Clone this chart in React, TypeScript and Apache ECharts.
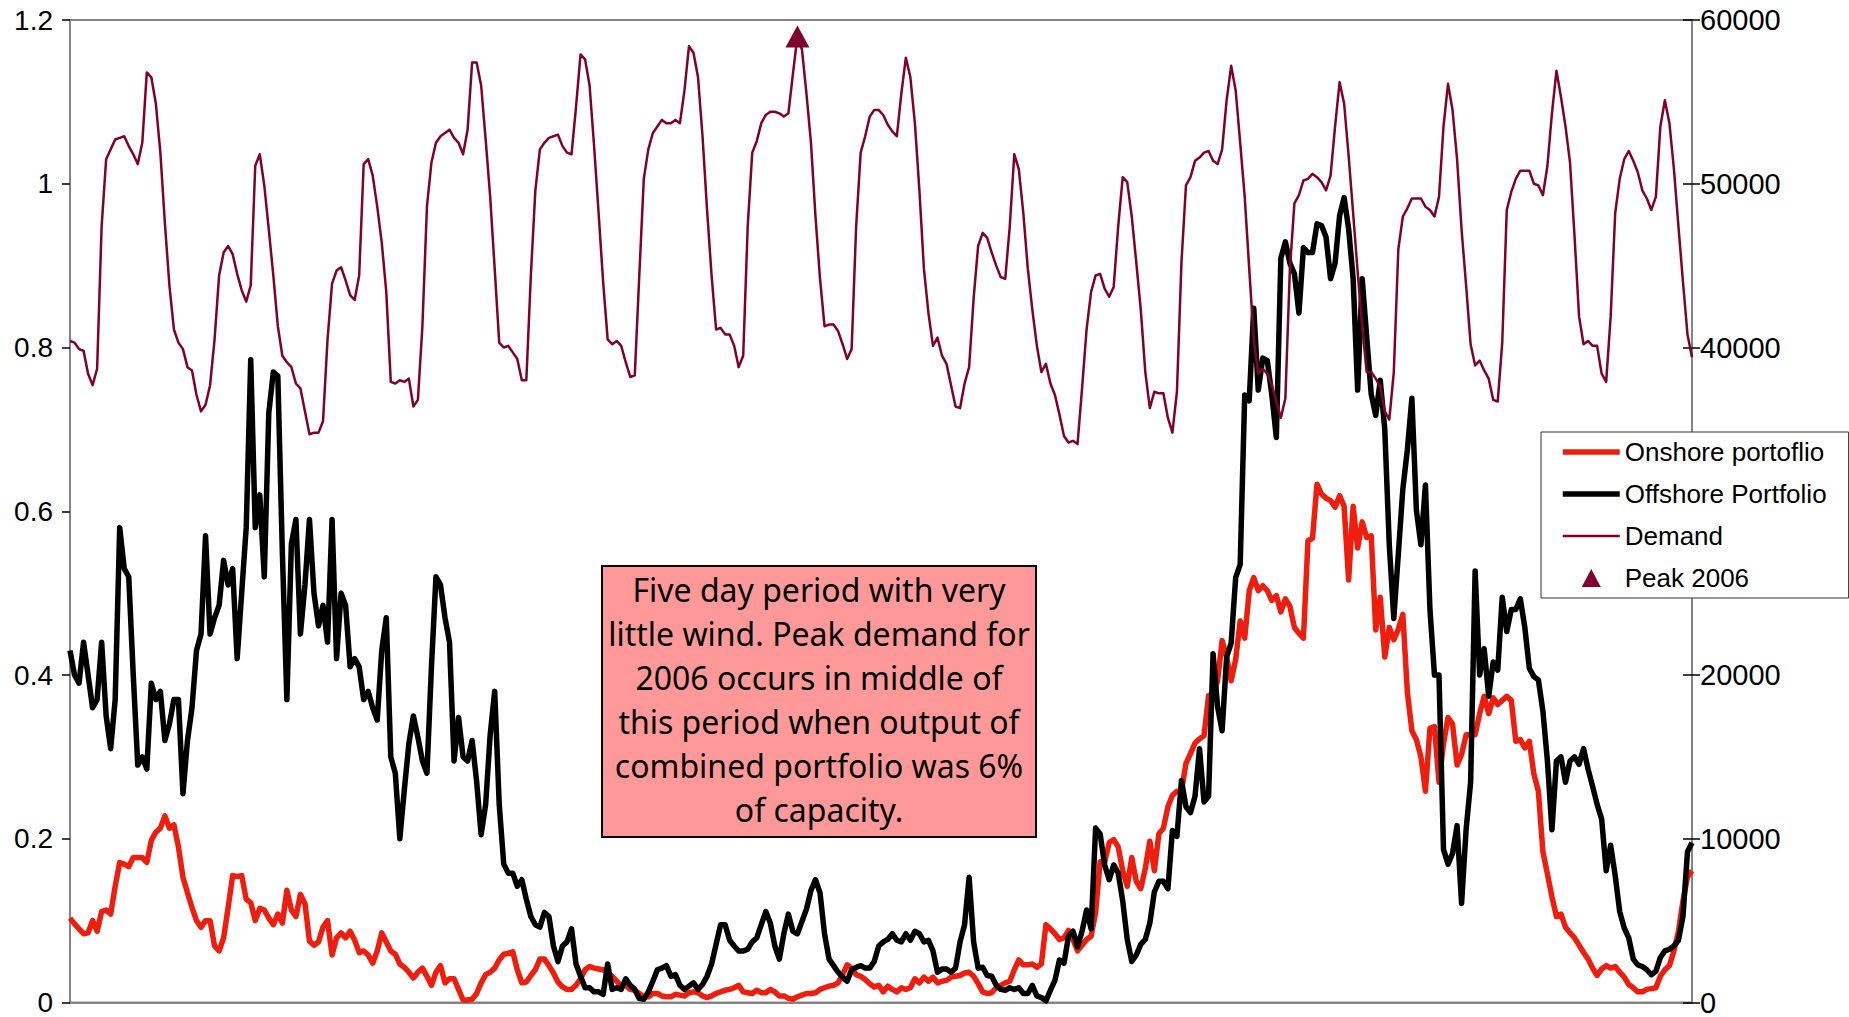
import React, { useEffect, useRef } from "react";
import * as echarts from "echarts";

// Hourly capacity factors of the two wind portfolios (fraction of capacity), 15 days.
const onshore = [
  0.103, 0.096, 0.09, 0.084, 0.085, 0.1, 0.087, 0.111, 0.113, 0.108, 0.142, 0.171, 0.169, 0.166, 0.177, 0.177, 0.177, 0.171, 0.198, 0.208, 0.213, 0.228, 0.213, 0.217,
  0.19, 0.153, 0.134, 0.116, 0.1, 0.092, 0.1, 0.1, 0.069, 0.063, 0.079, 0.116, 0.155, 0.154, 0.155, 0.126, 0.122, 0.1, 0.115, 0.113, 0.103, 0.095, 0.108, 0.097,
  0.137, 0.113, 0.105, 0.132, 0.121, 0.075, 0.07, 0.074, 0.092, 0.1, 0.058, 0.079, 0.085, 0.079, 0.087, 0.076, 0.061, 0.063, 0.058, 0.048, 0.063, 0.085, 0.074, 0.063,
  0.059, 0.047, 0.043, 0.037, 0.03, 0.037, 0.042, 0.032, 0.021, 0.037, 0.045, 0.024, 0.029, 0.029, 0.016, 0.003, 0.003, 0.004, 0.011, 0.024, 0.034, 0.037, 0.042, 0.052,
  0.059, 0.06, 0.062, 0.04, 0.024, 0.025, 0.033, 0.04, 0.053, 0.053, 0.045, 0.036, 0.025, 0.019, 0.016, 0.016, 0.021, 0.029, 0.04, 0.044, 0.042, 0.041, 0.04, 0.036,
  0.032, 0.026, 0.02, 0.021, 0.016, 0.015, 0.011, 0.007, 0.007, 0.011, 0.011, 0.008, 0.007, 0.007, 0.01, 0.009, 0.008, 0.012, 0.013, 0.012, 0.008, 0.006, 0.008, 0.011,
  0.013, 0.015, 0.016, 0.018, 0.021, 0.013, 0.012, 0.011, 0.015, 0.012, 0.012, 0.016, 0.013, 0.008, 0.008, 0.005, 0.004, 0.007, 0.009, 0.011, 0.011, 0.012, 0.016, 0.018,
  0.02, 0.021, 0.024, 0.034, 0.046, 0.042, 0.034, 0.032, 0.028, 0.023, 0.019, 0.021, 0.013, 0.02, 0.016, 0.013, 0.018, 0.016, 0.018, 0.029, 0.024, 0.031, 0.026, 0.031,
  0.024, 0.026, 0.027, 0.031, 0.032, 0.033, 0.036, 0.037, 0.032, 0.023, 0.013, 0.011, 0.012, 0.018, 0.021, 0.024, 0.026, 0.04, 0.052, 0.046, 0.046, 0.047, 0.043, 0.047,
  0.095, 0.09, 0.084, 0.077, 0.079, 0.088, 0.077, 0.063, 0.07, 0.077, 0.081, 0.11, 0.172, 0.171, 0.195, 0.199, 0.19, 0.161, 0.142, 0.177, 0.148, 0.139, 0.164, 0.197,
  0.161, 0.206, 0.213, 0.239, 0.253, 0.258, 0.258, 0.292, 0.304, 0.317, 0.322, 0.326, 0.375, 0.377, 0.393, 0.442, 0.422, 0.393, 0.419, 0.466, 0.445, 0.503, 0.519, 0.503,
  0.509, 0.503, 0.491, 0.497, 0.477, 0.493, 0.484, 0.458, 0.451, 0.445, 0.564, 0.567, 0.633, 0.621, 0.616, 0.613, 0.605, 0.619, 0.606, 0.516, 0.606, 0.555, 0.587, 0.568,
  0.57, 0.455, 0.495, 0.422, 0.458, 0.443, 0.456, 0.474, 0.379, 0.332, 0.321, 0.3, 0.258, 0.335, 0.337, 0.269, 0.316, 0.348, 0.34, 0.29, 0.303, 0.327, 0.327, 0.327,
  0.353, 0.374, 0.353, 0.372, 0.364, 0.369, 0.374, 0.369, 0.319, 0.321, 0.311, 0.319, 0.279, 0.258, 0.184, 0.157, 0.129, 0.105, 0.108, 0.092, 0.085, 0.079, 0.07, 0.061,
  0.053, 0.042, 0.033, 0.041, 0.045, 0.042, 0.044, 0.037, 0.031, 0.022, 0.018, 0.013, 0.013, 0.016, 0.017, 0.018, 0.032, 0.04, 0.045, 0.063, 0.087, 0.124, 0.153, 0.161,
];

const offshore = [
  0.43, 0.4, 0.39, 0.44, 0.4, 0.36, 0.37, 0.44, 0.35, 0.31, 0.37, 0.58, 0.53, 0.52, 0.4, 0.29, 0.3, 0.285, 0.39, 0.37, 0.38, 0.32, 0.34, 0.37,
  0.37, 0.255, 0.32, 0.36, 0.43, 0.45, 0.57, 0.45, 0.47, 0.485, 0.54, 0.51, 0.53, 0.42, 0.5, 0.58, 0.785, 0.58, 0.62, 0.52, 0.72, 0.77, 0.765, 0.55,
  0.37, 0.56, 0.59, 0.45, 0.51, 0.59, 0.5, 0.46, 0.485, 0.44, 0.59, 0.42, 0.5, 0.485, 0.41, 0.42, 0.41, 0.37, 0.38, 0.36, 0.345, 0.43, 0.47, 0.3,
  0.28, 0.2, 0.26, 0.316, 0.35, 0.324, 0.295, 0.28, 0.41, 0.52, 0.51, 0.47, 0.44, 0.295, 0.348, 0.3, 0.295, 0.32, 0.27, 0.205, 0.242, 0.327, 0.38, 0.242,
  0.169, 0.158, 0.158, 0.142, 0.15, 0.126, 0.105, 0.095, 0.092, 0.11, 0.105, 0.069, 0.05, 0.069, 0.074, 0.09, 0.047, 0.032, 0.018, 0.018, 0.013, 0.013, 0.01, 0.047,
  0.016, 0.018, 0.016, 0.029, 0.021, 0.016, 0.005, 0.004, 0.013, 0.026, 0.04, 0.042, 0.045, 0.032, 0.034, 0.021, 0.016, 0.02, 0.024, 0.016, 0.022, 0.032, 0.047, 0.071,
  0.095, 0.095, 0.076, 0.069, 0.063, 0.063, 0.065, 0.074, 0.079, 0.095, 0.111, 0.097, 0.069, 0.053, 0.084, 0.108, 0.087, 0.084, 0.099, 0.114, 0.137, 0.15, 0.134, 0.084,
  0.053, 0.045, 0.037, 0.031, 0.026, 0.04, 0.043, 0.045, 0.042, 0.042, 0.05, 0.069, 0.074, 0.077, 0.084, 0.076, 0.074, 0.084, 0.076, 0.087, 0.084, 0.074, 0.076, 0.063,
  0.037, 0.041, 0.041, 0.037, 0.042, 0.074, 0.095, 0.153, 0.074, 0.042, 0.043, 0.033, 0.032, 0.021, 0.016, 0.015, 0.018, 0.016, 0.018, 0.011, 0.011, 0.021, 0.008, 0.006,
  0.002, 0.015, 0.027, 0.052, 0.048, 0.081, 0.087, 0.068, 0.087, 0.113, 0.09, 0.213, 0.206, 0.168, 0.15, 0.168, 0.158, 0.124, 0.077, 0.05, 0.058, 0.071, 0.077, 0.097,
  0.135, 0.148, 0.148, 0.139, 0.21, 0.203, 0.271, 0.239, 0.232, 0.252, 0.31, 0.245, 0.252, 0.426, 0.361, 0.332, 0.422, 0.439, 0.519, 0.535, 0.742, 0.735, 0.848, 0.748,
  0.787, 0.784, 0.742, 0.69, 0.909, 0.929, 0.903, 0.89, 0.842, 0.922, 0.916, 0.916, 0.951, 0.949, 0.935, 0.884, 0.903, 0.961, 0.983, 0.945, 0.884, 0.748, 0.884, 0.813,
  0.743, 0.717, 0.76, 0.7, 0.559, 0.469, 0.548, 0.627, 0.675, 0.738, 0.601, 0.559, 0.632, 0.48, 0.4, 0.4, 0.187, 0.169, 0.182, 0.216, 0.121, 0.211, 0.269, 0.527,
  0.4, 0.432, 0.374, 0.416, 0.406, 0.495, 0.453, 0.48, 0.48, 0.493, 0.458, 0.408, 0.398, 0.394, 0.356, 0.295, 0.211, 0.295, 0.3, 0.269, 0.295, 0.3, 0.291, 0.31,
  0.285, 0.264, 0.242, 0.224, 0.161, 0.192, 0.155, 0.111, 0.091, 0.079, 0.053, 0.046, 0.044, 0.04, 0.034, 0.038, 0.055, 0.063, 0.065, 0.069, 0.076, 0.105, 0.184, 0.195,
];

// Hourly system demand, MW.
const demand = [
  40400, 40300, 39900, 39800, 38400, 37700, 38700, 47400, 51500, 52100, 52700, 52800, 52900, 52300, 51800, 51200, 52500, 56800, 56500, 54900, 51900, 47600, 43800, 41100,
  40300, 39900, 38800, 38600, 37100, 36100, 36500, 37700, 40500, 44400, 45800, 46200, 45700, 44500, 43500, 42800, 43800, 51100, 51800, 49900, 47200, 44400, 41300, 39500,
  39100, 38800, 37800, 37500, 36100, 34700, 34800, 34800, 35500, 40500, 43900, 44700, 44900, 44100, 43200, 42900, 44400, 51200, 51500, 50500, 48600, 46400, 43400, 37900,
  37800, 38000, 37900, 38100, 36400, 36800, 41300, 48600, 51300, 52500, 52900, 53100, 53300, 52800, 52500, 51800, 53300, 57400, 57400, 56000, 52700, 49200, 44800, 40300,
  40000, 40100, 39700, 39300, 38000, 38000, 44400, 49600, 52100, 52500, 52800, 52900, 53000, 52300, 51900, 51800, 54700, 57900, 57600, 56000, 52300, 48200, 44000, 40500,
  40200, 40400, 40100, 39100, 38200, 38300, 44400, 50300, 52100, 53100, 53500, 53900, 53700, 53700, 53900, 53700, 55700, 58400, 58000, 56500, 52900, 48400, 44400, 41100,
  41200, 40800, 40800, 40100, 38800, 39500, 47400, 51900, 52600, 53700, 54200, 54400, 54400, 54300, 54100, 54300, 56700, 59000, 58200, 55500, 52500, 48000, 44200, 41300,
  41400, 41400, 41000, 40200, 39300, 39900, 47400, 51900, 52900, 54100, 54500, 54500, 54200, 53600, 53200, 52900, 55500, 57700, 56500, 53700, 49600, 44800, 42100, 40100,
  40600, 39500, 39000, 37700, 36400, 36300, 37800, 38800, 43000, 46200, 47000, 46700, 45800, 45000, 44300, 44200, 47400, 51800, 50900, 48200, 44800, 42300, 40100, 38500,
  39000, 37800, 37100, 35900, 34600, 34200, 34300, 34100, 37500, 41100, 43400, 44400, 44500, 43600, 43100, 43700, 47400, 50400, 50100, 48000, 45200, 42300, 38500, 36300,
  37300, 37200, 37200, 35700, 34800, 37300, 45200, 49900, 50400, 51400, 51600, 51900, 52000, 51400, 51200, 52100, 55100, 57200, 55700, 52500, 49200, 44800, 40500, 38400,
  38700, 38400, 37700, 36700, 35700, 36900, 44800, 48800, 49300, 50200, 50300, 50600, 50400, 50100, 49600, 50500, 53500, 56200, 54900, 51700, 48200, 44600, 41300, 38500,
  38500, 38100, 37600, 36100, 35600, 38500, 46000, 48000, 48500, 49100, 49100, 49100, 48600, 48400, 48000, 49200, 53500, 56100, 54500, 51500, 47200, 43800, 40200, 38900,
  39200, 38600, 38100, 36800, 36700, 40300, 48400, 49500, 50300, 50800, 50800, 50800, 50000, 49900, 49300, 51100, 54300, 56900, 55300, 53500, 51300, 46800, 41900, 40200,
  40400, 40100, 40100, 38400, 37900, 41900, 48200, 50300, 51500, 52000, 51400, 50700, 49600, 49100, 48400, 49200, 53500, 55100, 53700, 50900, 47400, 44000, 40800, 39400,
];

// Hour index (from the start of the period) at which the 2006 peak demand occurs.
const peakHour = 161;

const seriesNames = ["Onshore portoflio", "Offshore Portfolio", "Demand", "Peak 2006"];

const noteLines = [
  "Five day period with very",
  "little wind. Peak demand for",
  "2006 occurs in middle of",
  "this period when output of",
  "combined portfolio was 6%",
  "of capacity.",
];

const hours = demand.map((_, i) => String(i));

const AXIS_GREY = "#858585";
const RED = "#EE1D0E";
const MAROON = "#80002E";
const LABEL_FONT = "'Liberation Sans', Arial, sans-serif";
// upright triangle used as the legend key of the peak marker (keeps its aspect)
const TRIANGLE_ICON = "path://M0,18 L9.5,0 L19,18 Z";

export default function App() {
  const ref = useRef<HTMLDivElement>(null);

  useEffect(() => {
    if (!ref.current) return;
    const chart = echarts.init(ref.current, undefined, { renderer: "svg" });

    const axisLabelBase = {
      color: "#000",
      fontSize: 28,
      fontFamily: LABEL_FONT,
    };

    chart.setOption({
      animation: false,
      textStyle: { fontFamily: LABEL_FONT },
      grid: {
        left: 70,
        right: 157,
        top: 20,
        bottom: 11,
        show: true,
        borderColor: AXIS_GREY,
        borderWidth: 2,
        backgroundColor: "transparent",
      },
      xAxis: {
        type: "category",
        data: hours,
        boundaryGap: false,
        axisLine: { show: true, lineStyle: { color: AXIS_GREY, width: 2 } },
        axisTick: { show: false },
        axisLabel: { show: false },
        splitLine: { show: false },
      },
      yAxis: [
        {
          type: "value",
          position: "left",
          min: 0,
          max: 1.2,
          interval: 0.2,
          axisLine: { show: true, lineStyle: { color: AXIS_GREY, width: 2 } },
          axisTick: { show: true, length: 8, lineStyle: { color: "#000", width: 1.5 } },
          axisLabel: {
            ...axisLabelBase,
            margin: 17,
            formatter: (v: number) => String(Math.round(v * 10) / 10),
          },
          splitLine: { show: false },
        },
        {
          type: "value",
          position: "right",
          min: 0,
          max: 60000,
          interval: 10000,
          axisLine: { show: true, lineStyle: { color: AXIS_GREY, width: 2 } },
          axisTick: { show: true, length: 8, lineStyle: { color: "#000", width: 1.5 } },
          axisLabel: {
            ...axisLabelBase,
            fontSize: 29,
            margin: 8,
            // the 30000 label sits under the legend box
            formatter: (v: number) => (v === 30000 ? "" : String(v)),
          },
          splitLine: { show: false },
        },
        {
          // inner half of the crossing ticks on the demand axis
          type: "value",
          position: "right",
          min: 0,
          max: 60000,
          interval: 10000,
          axisLine: { show: false },
          axisTick: { show: true, inside: true, length: 9, lineStyle: { color: "#000", width: 1.5 } },
          axisLabel: { show: false },
          splitLine: { show: false },
        },
      ],
      legend: {
        orient: "vertical",
        left: 1541,
        top: 432,
        padding: [7, 22, 7, 19],
        itemWidth: 57,
        itemHeight: 18,
        itemGap: 16,
        symbolKeepAspect: true,
        backgroundColor: "#fff",
        borderColor: "#333",
        borderWidth: 1,
        lineStyle: { width: "inherit" },
        textStyle: { fontSize: 26, color: "#000", fontFamily: LABEL_FONT, lineHeight: 26 },
        data: [
          { name: seriesNames[0], itemStyle: { opacity: 0 } },
          { name: seriesNames[1], itemStyle: { opacity: 0 } },
          { name: seriesNames[2], itemStyle: { opacity: 0 } },
          { name: seriesNames[3], icon: TRIANGLE_ICON },
        ],
      },
      series: [
        {
          name: seriesNames[0],
          type: "line",
          data: onshore,
          yAxisIndex: 0,
          symbol: "none",
          lineStyle: { color: RED, width: 5.5, join: "round" },
          itemStyle: { color: RED },
        },
        {
          name: seriesNames[1],
          type: "line",
          data: offshore,
          yAxisIndex: 0,
          symbol: "none",
          lineStyle: { color: "#000", width: 5.5, join: "round" },
          itemStyle: { color: "#000" },
        },
        {
          name: seriesNames[2],
          type: "line",
          data: demand,
          yAxisIndex: 1,
          symbol: "none",
          lineStyle: { color: MAROON, width: 2.5, join: "round" },
          itemStyle: { color: MAROON },
        },
        {
          name: seriesNames[3],
          type: "scatter",
          yAxisIndex: 1,
          data: [[hours[peakHour], demand[peakHour]]],
          symbol: "triangle",
          symbolSize: [24, 22],
          itemStyle: { color: MAROON, opacity: 1 },
        },
      ],
      graphic: [
        {
          type: "rect",
          z: 10,
          shape: { x: 602, y: 566, width: 434, height: 271 },
          style: { fill: "#FF9999", stroke: "#000", lineWidth: 2 },
        },
        {
          type: "text",
          z: 11,
          x: 819,
          y: 567,
          style: {
            text: noteLines.join("\n"),
            fill: "#000",
            fontSize: 32,
            fontFamily: "'Noto Sans', 'Open Sans', sans-serif",
            lineHeight: 44,
            textAlign: "center",
            textVerticalAlign: "top",
            verticalAlign: "top",
          },
        },
      ],
    });

    return () => chart.dispose();
  }, []);

  return (
    <div
      ref={ref}
      style={{ position: "absolute", left: 0, top: 0, width: 1849, height: 1017, background: "#fff" }}
    />
  );
}
